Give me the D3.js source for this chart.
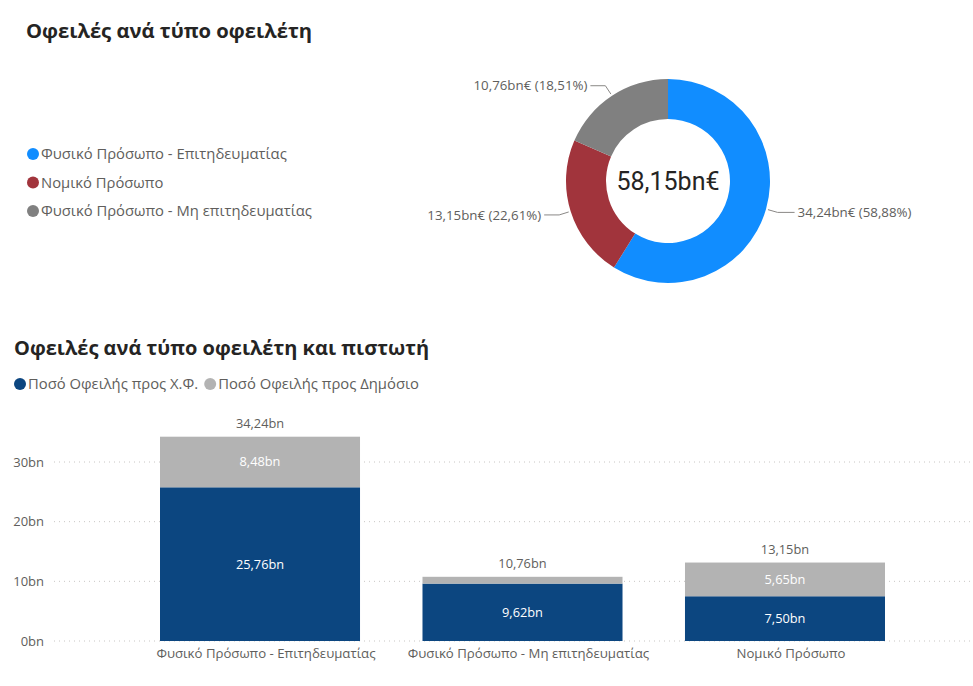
<!DOCTYPE html>
<html>
<head>
<meta charset="utf-8">
<script src="https://cdn.jsdelivr.net/npm/d3@7"></script>
<style>
    body { margin: 0; background: #fff; }
    svg { font-family: "Open Sans", "Noto Sans", sans-serif; }
</style>
</head>
<body>
<script>
// donut data
const debtorTypes = ['Φυσικό Πρόσωπο - Επιτηδευματίας', 'Νομικό Πρόσωπο', 'Φυσικό Πρόσωπο - Μη επιτηδευματίας'];
const debtorTotals = [34.24, 13.15, 10.76];
const debtorShares = [58.88, 22.61, 18.51];
const debtorColors = ['#118DFF', '#A1343C', '#808080'];

// stacked bar data
const barCategories = ['Φυσικό Πρόσωπο - Επιτηδευματίας', 'Φυσικό Πρόσωπο - Μη επιτηδευματίας', 'Νομικό Πρόσωπο'];
const seriesNames = ['Ποσό Οφειλής προς Χ.Φ.', 'Ποσό Οφειλής προς Δημόσιο'];
const owedFinancial = [25.76, 9.62, 7.50];
const owedPublic = [8.48, 1.14, 5.65];
const seriesColors = ['#0C4680', '#B3B3B3'];
const yTicks = [0, 10, 20, 30];

const locale = d3.formatLocale({ decimal: ',', thousands: '.', grouping: [3], currency: ['', '€'] });
const fmt2 = locale.format('.2f');

const svg = d3.select('body').append('svg')
    .attr('width', 973).attr('height', 686);

// ---------- top: donut ----------
svg.append('text')
    .attr('x', 26).attr('y', 38)
    .attr('font-size', 20.2).attr('font-weight', 'bold').attr('fill', '#252423')
    .text('Οφειλές ανά τύπο οφειλέτη');

const legend1 = svg.append('g').attr('transform', 'translate(33,154)');
debtorTypes.forEach((name, i) => {
    const row = legend1.append('g').attr('transform', `translate(0,${i * 28.5})`);
    row.append('circle').attr('r', 6).attr('fill', debtorColors[i]);
    row.append('text').attr('x', 8).attr('dy', '0.35em')
        .attr('font-size', 14.8).attr('fill', '#605E5C').text(name);
});

const cx = 668, cy = 181, outerR = 102, innerR = 62;
const pie = d3.pie().sort(null).value(d => d);
const arc = d3.arc().innerRadius(innerR).outerRadius(outerR);
const arcs = pie(debtorTotals);

const donut = svg.append('g').attr('transform', `translate(${cx},${cy})`);
donut.selectAll('path.slice')
    .data(arcs)
    .join('path')
    .attr('class', 'slice')
    .attr('d', arc)
    .attr('fill', (d, i) => debtorColors[i]);

donut.append('text')
    .attr('text-anchor', 'middle').attr('dy', '0.36em')
    .style('font-family', 'Roboto, sans-serif')
    .attr('font-size', 25).attr('font-weight', 400).attr('fill', '#252423')
    .text(fmt2(d3.sum(debtorTotals)) + 'bn€');

// leader lines + labels
arcs.forEach((d, i) => {
    const a = (d.startAngle + d.endAngle) / 2;
    const p0 = [Math.sin(a) * (outerR + 2), -Math.cos(a) * (outerR + 2)];
    const p1 = [Math.sin(a) * (outerR + 12), -Math.cos(a) * (outerR + 12)];
    const right = Math.sin(a) > 0;
    const p2 = [p1[0] + (right ? 17 : -15), p1[1]];
    const p = d3.path();
    p.moveTo(p0[0], p0[1]);
    p.lineTo(p1[0], p1[1]);
    p.lineTo(p2[0], p2[1]);
    donut.append('path').attr('d', p).attr('fill', 'none')
        .attr('stroke', '#8A8886').attr('stroke-width', 1);
    donut.append('text')
        .attr('x', p2[0] + (right ? 3 : -3)).attr('y', p2[1])
        .attr('dy', '0.35em')
        .attr('text-anchor', right ? 'start' : 'end')
        .attr('font-size', 13.3).attr('fill', '#605E5C')
        .text(`${fmt2(debtorTotals[i])}bn€ (${fmt2(debtorShares[i])}%)`);
});

// ---------- bottom: stacked bars ----------
svg.append('text')
    .attr('x', 14).attr('y', 355)
    .attr('font-size', 20).attr('font-weight', 'bold').attr('fill', '#252423')
    .text('Οφειλές ανά τύπο οφειλέτη και πιστωτή');

const legend2 = svg.append('g').attr('transform', 'translate(20,384)');
let lx = 0;
seriesNames.forEach((name, i) => {
    const item = legend2.append('g').attr('transform', `translate(${lx},0)`);
    item.append('circle').attr('r', 6).attr('fill', seriesColors[i]);
    const t = item.append('text').attr('x', 8).attr('dy', '0.35em')
        .attr('font-size', 14.8).attr('fill', '#605E5C').text(name);
    lx += 8 + t.node().getComputedTextLength() + 12;
});

const x = d3.scaleBand().domain(barCategories).range([160, 885]).paddingInner(0.238).paddingOuter(0);
const y = d3.scaleLinear().domain([0, 30]).range([641, 462]);

const rows = barCategories.map((c, i) => ({ cat: c, fin: owedFinancial[i], pub: owedPublic[i] }));
const stack = d3.stack().keys(['fin', 'pub']);
const layers = stack(rows);

// gridlines
const grid = svg.append('g');
grid.selectAll('line')
    .data(yTicks)
    .join('line')
    .attr('x1', 54).attr('x2', 973)
    .attr('y1', d => y(d)).attr('y2', d => y(d))
    .attr('stroke', '#C8C6C4').attr('stroke-width', 1)
    .attr('stroke-dasharray', '1,4');

const yAxis = svg.append('g').attr('transform', 'translate(44,0)')
    .call(d3.axisLeft(y).tickValues(yTicks).tickSize(0).tickPadding(0).tickFormat(d => d + 'bn'));
yAxis.select('.domain').remove();
yAxis.selectAll('text').attr('font-size', 13).attr('fill', '#605E5C')
    .style('font-family', '"Open Sans", sans-serif');

const xAxis = svg.append('g').attr('transform', `translate(0,${y(0)})`)
    .call(d3.axisBottom(x).tickSize(0).tickPadding(8));
xAxis.select('.domain').remove();
xAxis.selectAll('text').attr('font-size', 13.2).attr('fill', '#605E5C').attr('dx', 6)
    .style('font-family', '"Open Sans", sans-serif');

layers.forEach((layer, li) => {
    const g = svg.append('g');
    g.selectAll('rect')
        .data(layer)
        .join('rect')
        .attr('x', d => x(d.data.cat))
        .attr('width', x.bandwidth())
        .attr('y', d => y(d[1]))
        .attr('height', d => y(d[0]) - y(d[1]))
        .attr('fill', seriesColors[li]);
    g.selectAll('text')
        .data(layer.filter(d => y(d[0]) - y(d[1]) > 14))
        .join('text')
        .attr('x', d => x(d.data.cat) + x.bandwidth() / 2)
        .attr('y', d => y((d[0] + d[1]) / 2))
        .attr('dy', '0.35em')
        .attr('text-anchor', 'middle')
        .attr('font-size', 12.8).attr('fill', '#fff')
        .text(d => fmt2(d[1] - d[0]) + 'bn');
});

// totals
svg.append('g').selectAll('text')
    .data(rows)
    .join('text')
    .attr('x', d => x(d.cat) + x.bandwidth() / 2)
    .attr('y', d => y(d.fin + d.pub) - 13)
    .attr('text-anchor', 'middle')
    .attr('dy', '0.35em')
    .attr('font-size', 12.8).attr('fill', '#605E5C')
    .text(d => fmt2(d.fin + d.pub) + 'bn');
</script>
</body>
</html>
